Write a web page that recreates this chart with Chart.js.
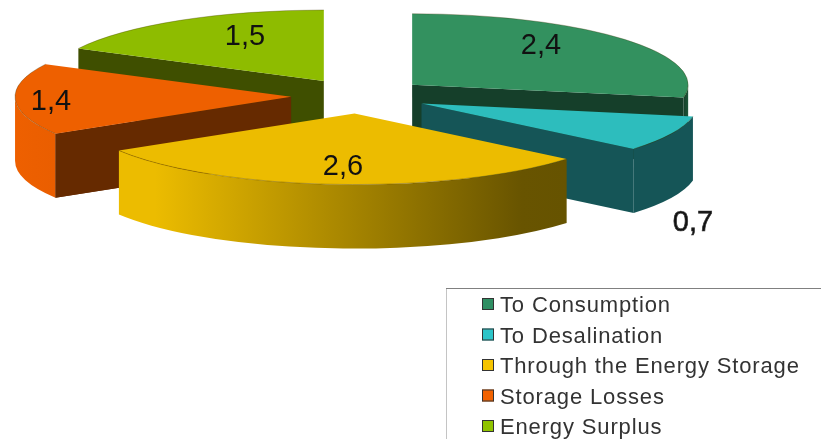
<!DOCTYPE html>
<html>
<head>
<meta charset="utf-8">
<title>Energy split</title>
<style>
  html, body { margin: 0; padding: 0; background: #fff; overflow: hidden; }
  #wrap { width: 821px; height: 439px; }
</style>
<script src="https://cdn.jsdelivr.net/npm/chart.js@4.4.0/dist/chart.umd.min.js"></script>
</head>
<body>
<div id="wrap"><canvas id="pie" width="821" height="439"></canvas></div>
<script>
var categories = ['To Consumption', 'To Desalination', 'Through the Energy Storage', 'Storage Losses', 'Energy Surplus'];
var values = [2.4, 0.7, 2.6, 1.4, 1.5];

var topColors = ['#33915f', '#2dbdbd', '#ecbc00', '#ee6000', '#8ebc00'];
var legendColors = ['#2f8f63', '#2cc4c8', '#f5c400', '#f26200', '#90c400'];
var cutColors = ['#153f2a', '#155557', '#6a5600', '#662a00', '#3f4f00'];
// outer wall shading, left to right
var rimStops = [
  [[0, '#153f2a'], [1, '#1c5538']],
  [[0, '#155557'], [1, '#155557']],
  [[0, '#ecbc00'], [0.08, '#ecbc00'], [0.9, '#685400'], [1, '#665300']],
  [[0, '#ee6000'], [1, '#ea5e00']],
  [[0, '#3f4f00'], [1, '#3f4f00']]
];
// back slices go first so the nearer ones cover them
var paintOrder = [4, 0, 3, 1, 2];

// flattened pie on screen; explode is measured along the horizontal radius
var PIE = { cx: 359.5, cy: 96, rx: 276, ry: 71, depth: 64, explode: 68.5 };

var valueLabels = [
  { x: 541, y: 46 },
  { x: 693, y: 223 },
  { x: 343, y: 167 },
  { x: 51, y: 102 },
  { x: 245, y: 37 }
];

function sliceGeometry(el) {
  var mid = (el.startAngle + el.endAngle) / 2;
  return {
    sx: PIE.rx / el.outerRadius,
    sy: PIE.ry / el.outerRadius,
    ax: PIE.cx + Math.cos(mid) * PIE.explode,
    ay: PIE.cy + Math.sin(mid) * PIE.explode * PIE.ry / PIE.rx,
    start: el.startAngle,
    end: el.endAngle
  };
}

function rimPoint(g, angle) {
  return { x: g.ax + PIE.rx * Math.cos(angle), y: g.ay + PIE.ry * Math.sin(angle) };
}

function drawCutWall(ctx, g, angle, color) {
  var p = rimPoint(g, angle);
  ctx.fillStyle = color;
  ctx.beginPath();
  ctx.moveTo(g.ax, g.ay);
  ctx.lineTo(p.x, p.y);
  ctx.lineTo(p.x, p.y + PIE.depth);
  ctx.lineTo(g.ax, g.ay + PIE.depth);
  ctx.closePath();
  ctx.fill();
}

function drawRimWall(ctx, g, stops) {
  // only the front half of the rim faces the viewer
  var from = Math.max(g.start, 0), to = Math.min(g.end, Math.PI);
  if (to <= from) return;
  var a = rimPoint(g, from), b = rimPoint(g, to);
  var grad = ctx.createLinearGradient(Math.min(a.x, b.x), 0, Math.max(a.x, b.x), 0);
  stops.forEach(function(s) { grad.addColorStop(s[0], s[1]); });
  ctx.beginPath();
  ctx.ellipse(g.ax, g.ay, PIE.rx, PIE.ry, 0, from, to, false);
  ctx.ellipse(g.ax, g.ay + PIE.depth, PIE.rx, PIE.ry, 0, to, from, true);
  ctx.closePath();
  ctx.fillStyle = grad;
  ctx.fill();
}

var pie3d = {
  id: 'pie3d',
  beforeDatasetDraw: function() {
    return false;
  },
  afterDatasetsDraw: function(chart) {
    var ctx = chart.ctx;
    var arcs = chart.getDatasetMeta(0).data;

    paintOrder.forEach(function(i) {
      var el = arcs[i];
      var g = sliceGeometry(el);

      // the cut that faces the viewer; yellow shows only its outer wall
      if (i !== 2) drawCutWall(ctx, g, i === 3 || i === 4 ? g.start : g.end, cutColors[i]);
      drawRimWall(ctx, g, rimStops[i]);
      if (i === 3) drawCutWall(ctx, g, g.start, cutColors[i]);

      // top face is the library's own arc, squashed and moved out
      ctx.save();
      ctx.translate(g.ax, g.ay);
      ctx.scale(g.sx, g.sy);
      ctx.translate(-el.x, -el.y);
      el.draw(ctx);
      ctx.restore();

      // thin dark edge along the rim
      ctx.beginPath();
      ctx.ellipse(g.ax, g.ay, PIE.rx, PIE.ry, 0, g.start, g.end, false);
      ctx.strokeStyle = 'rgba(60,45,0,0.3)';
      ctx.lineWidth = 1;
      ctx.stroke();
    });

    // values with decimal comma
    ctx.fillStyle = '#111';
    ctx.strokeStyle = '#333';
    ctx.lineWidth = 0.7;
    ctx.font = '29px "Liberation Sans", Arial, sans-serif';
    ctx.textAlign = 'center';
    ctx.textBaseline = 'middle';
    values.forEach(function(v, i) {
      var text = String(v).replace('.', ',');
      ctx.fillText(text, valueLabels[i].x, valueLabels[i].y);
      // the outside label reads heavier on white
      if (i === 1) ctx.strokeText(text, valueLabels[i].x, valueLabels[i].y);
    });

    drawLegend(ctx, chart);
  }
};

function drawLegend(ctx, chart) {
  // frame: top and left sides only, the rest runs off the edge
  ctx.lineWidth = 1;
  ctx.strokeStyle = '#c4c4c4';
  ctx.beginPath();
  ctx.moveTo(446.5, 439);
  ctx.lineTo(446.5, 288.5);
  ctx.stroke();
  ctx.strokeStyle = '#808080';
  ctx.beginPath();
  ctx.moveTo(446, 288.5);
  ctx.lineTo(821, 288.5);
  ctx.stroke();

  ctx.font = '22px "Liberation Sans", Arial, sans-serif';
  ctx.textAlign = 'left';
  ctx.textBaseline = 'alphabetic';
  chart.data.labels.forEach(function(label, i) {
    var base = 312 + i * 30.5;
    ctx.fillStyle = legendColors[i];
    ctx.fillRect(482, base - 14, 12, 12);
    ctx.strokeStyle = '#333';
    ctx.strokeRect(482.5, base - 13.5, 11, 11);
    ctx.fillStyle = '#333';
    ctx.letterSpacing = '0.85px';
    ctx.fillText(label, 500, base);
    ctx.letterSpacing = '0px';
  });
}

new Chart(document.getElementById('pie'), {
  type: 'pie',
  data: {
    labels: categories,
    datasets: [{
      data: values,
      backgroundColor: topColors,
      borderWidth: 0
    }]
  },
  options: {
    responsive: false,
    animation: false,
    events: [],
    layout: { padding: 0 },
    plugins: {
      legend: { display: false },
      tooltip: { enabled: false }
    }
  },
  plugins: [pie3d]
});
</script>
</body>
</html>
